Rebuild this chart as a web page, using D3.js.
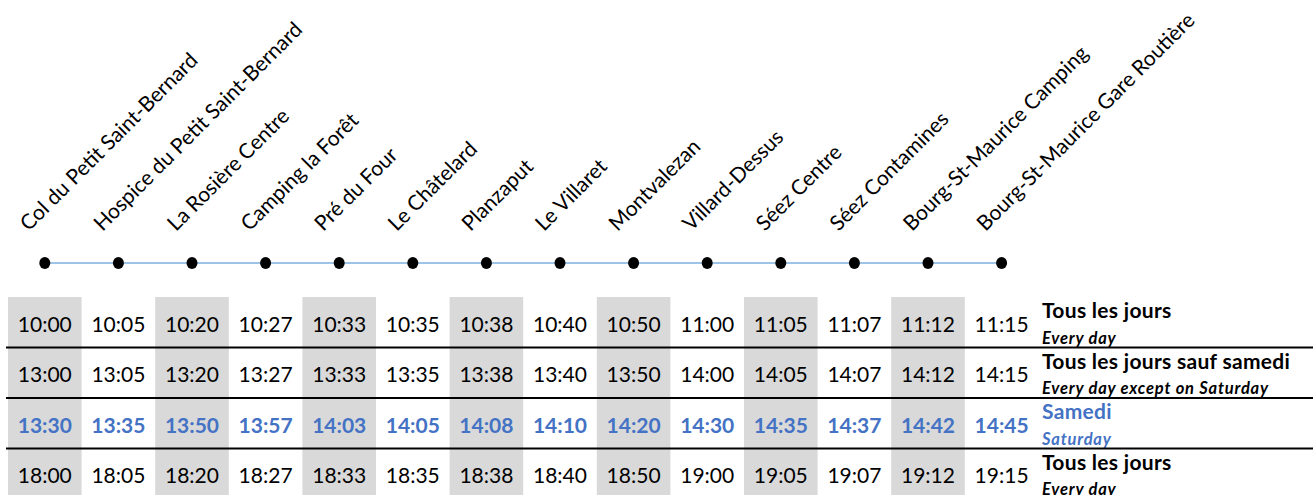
<!DOCTYPE html>
<html><head><meta charset="utf-8">
<script src="https://cdn.jsdelivr.net/npm/d3@7"></script>
<style>html,body{margin:0;padding:0;background:#fff;}svg{display:block;}</style>
</head><body>
<script>
const stops = ["Col du Petit Saint-Bernard","Hospice du Petit Saint-Bernard","La Rosière Centre","Camping la Forêt","Pré du Four","Le Châtelard","Planzaput","Le Villaret","Montvalezan","Villard-Dessus","Séez Centre","Séez Contamines","Bourg-St-Maurice Camping","Bourg-St-Maurice Gare Routière"];
const row1 = ["10:00","10:05","10:20","10:27","10:33","10:35","10:38","10:40","10:50","11:00","11:05","11:07","11:12","11:15"];
const row2 = ["13:00","13:05","13:20","13:27","13:33","13:35","13:38","13:40","13:50","14:00","14:05","14:07","14:12","14:15"];
const row3 = ["13:30","13:35","13:50","13:57","14:03","14:05","14:08","14:10","14:20","14:30","14:35","14:37","14:42","14:45"];
const row4 = ["18:00","18:05","18:20","18:27","18:33","18:35","18:38","18:40","18:50","19:00","19:05","19:07","19:12","19:15"];
const rowsFr = ["Tous les jours","Tous les jours sauf samedi","Samedi","Tous les jours"];
const rowsEn = ["Every day","Every day except on Saturday","Saturday","Every day"];
const rowHighlight = [false,false,true,false];
const rows = [row1,row2,row3,row4];

const W=1313,H=495;
const FONT="Lato, 'Open Sans', sans-serif";
const BLUE="#4472c4";
const svg=d3.select("body").append("svg").attr("width",W).attr("height",H);

const x=d3.scaleBand().domain(d3.range(stops.length)).range([8,8+14*73.6]).padding(0);
const y=d3.scaleBand().domain(d3.range(rows.length)).range([297,297+4*50.5]).padding(0);
const cx=i=>x(i)+x.bandwidth()/2;

// grey columns
svg.append("g").selectAll("rect").data(d3.range(stops.length).filter(i=>i%2===0)).join("rect")
  .attr("x",i=>x(i)).attr("y",y.range()[0]).attr("width",x.bandwidth()).attr("height",H-y.range()[0])
  .attr("fill","#d9d9d9");

// stop labels
svg.append("g").selectAll("text").data(stops).join("text")
  .attr("transform",(d,i)=>`translate(${cx(i)-16},232) rotate(-45)`)
  .attr("font-family",FONT).attr("font-size",21).attr("fill","#000").text(d=>d);

// line and dots
const lineY=263;
svg.append("line").attr("x1",cx(0)).attr("x2",cx(stops.length-1)).attr("y1",lineY).attr("y2",lineY)
  .attr("stroke","#9dc3e6").attr("stroke-width",2);
svg.append("g").selectAll("ellipse").data(stops).join("ellipse")
  .attr("cx",(d,i)=>cx(i)).attr("cy",lineY).attr("rx",5.5).attr("ry",6).attr("fill","#000");

// times
const tg=svg.append("g");
rows.forEach((r,ri)=>{
  tg.append("g").selectAll("text").data(r).join("text")
    .attr("x",(d,i)=>cx(i)).attr("y",y(ri)+34.5).attr("text-anchor","middle")
    .attr("font-family",FONT).attr("font-size",21)
    .attr("font-weight",rowHighlight[ri]?"bold":"normal")
    .attr("fill",rowHighlight[ri]?BLUE:"#000").text(d=>d);
});

// legends
const lx=1042;
rows.forEach((r,ri)=>{
  svg.append("text").attr("x",lx).attr("y",y(ri)+21).attr("font-family",FONT).attr("font-size",21)
    .attr("letter-spacing",0.3)
    .attr("font-weight","bold").attr("fill",rowHighlight[ri]?BLUE:"#000").text(rowsFr[ri]);
  svg.append("text").attr("x",lx).attr("y",y(ri)+46.5).attr("font-family",FONT).attr("font-size",16.5)
    .attr("letter-spacing",0.8)
    .attr("font-weight","bold").attr("font-style","italic").attr("fill",rowHighlight[ri]?BLUE:"#000").text(rowsEn[ri]);
});

// separators
svg.append("g").selectAll("line").data(d3.range(rows.length-1)).join("line")
  .attr("x1",6).attr("x2",W).attr("y1",i=>y(i)+y.bandwidth()).attr("y2",i=>y(i)+y.bandwidth())
  .attr("stroke","#000").attr("stroke-width",2);
</script>
</body></html>
